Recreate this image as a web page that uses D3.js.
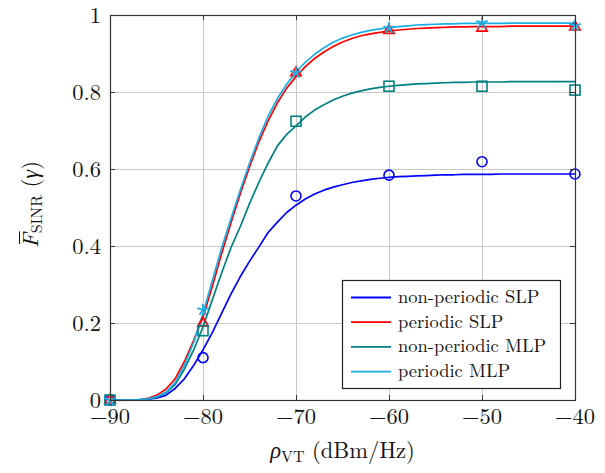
<!DOCTYPE html>
<html>
<head>
<meta charset="utf-8">
<script src="https://cdn.jsdelivr.net/npm/d3@7"></script>
<style>
  html, body { margin: 0; padding: 0; background: #fff; }
  svg { display: block; }
</style>
</head>
<body>
<svg id="chart" width="605" height="473"></svg>
<script>
// Transmit power density grid (dBm/Hz) for the analytical curves
const rho = d3.range(-90, -39, 1);

// Analytical SINR coverage curves, one value per dB
const nonPeriodicSLP = [0, 0, 0, 0, 0.002, 0.005, 0.012, 0.03, 0.055, 0.09,
  0.13, 0.175, 0.225, 0.275, 0.32, 0.36, 0.397, 0.435, 0.462, 0.487,
  0.506, 0.522, 0.535, 0.545, 0.553, 0.559, 0.565, 0.569, 0.573, 0.576,
  0.578, 0.58, 0.581, 0.582, 0.583, 0.584, 0.585, 0.585, 0.586, 0.586,
  0.586, 0.586, 0.587, 0.587, 0.587, 0.587, 0.587, 0.587, 0.587, 0.587, 0.587];
const periodicSLP = [0, 0, 0, 0, 0.004, 0.012, 0.028, 0.055, 0.1, 0.155,
  0.215, 0.295, 0.38, 0.46, 0.535, 0.605, 0.67, 0.725, 0.772, 0.81,
  0.84, 0.866, 0.887, 0.904, 0.918, 0.93, 0.939, 0.946, 0.951, 0.955,
  0.958, 0.961, 0.963, 0.965, 0.966, 0.967, 0.968, 0.969, 0.969, 0.97,
  0.97, 0.97, 0.97, 0.971, 0.971, 0.971, 0.971, 0.971, 0.971, 0.971, 0.971];
const nonPeriodicMLP = [0, 0, 0, 0, 0.002, 0.007, 0.018, 0.04, 0.08, 0.13,
  0.19, 0.26, 0.33, 0.395, 0.45, 0.51, 0.565, 0.615, 0.66, 0.69,
  0.712, 0.735, 0.753, 0.767, 0.779, 0.789, 0.797, 0.803, 0.808, 0.812,
  0.815, 0.817, 0.819, 0.821, 0.822, 0.823, 0.824, 0.825, 0.825, 0.826,
  0.826, 0.826, 0.826, 0.827, 0.827, 0.827, 0.827, 0.827, 0.827, 0.827, 0.827];
const periodicMLP = [0, 0, 0, 0.001, 0.003, 0.008, 0.02, 0.045, 0.09, 0.15,
  0.225, 0.31, 0.395, 0.47, 0.545, 0.615, 0.68, 0.737, 0.783, 0.82,
  0.852, 0.877, 0.898, 0.915, 0.929, 0.94, 0.948, 0.955, 0.96, 0.964,
  0.967, 0.97, 0.972, 0.974, 0.975, 0.976, 0.977, 0.977, 0.978, 0.978,
  0.978, 0.978, 0.978, 0.979, 0.979, 0.979, 0.979, 0.979, 0.979, 0.979, 0.979];

// Simulation points
const simRho = [-90, -80, -70, -60, -50, -40];
const simNonPeriodicSLP = [0, 0.11, 0.53, 0.584, 0.619, 0.587];
const simPeriodicSLP = [0, 0.2, 0.85, 0.96, 0.966, 0.969];
const simNonPeriodicMLP = [0, 0.18, 0.724, 0.815, 0.815, 0.805];
const simPeriodicMLP = [0, 0.234, 0.85, 0.966, 0.98, 0.972];

// Axis ticks
const xTicks = [-90, -80, -70, -60, -50, -40];
const yTicks = [0, 0.2, 0.4, 0.6, 0.8, 1];
const yTickLabels = ["0", "0.2", "0.4", "0.6", "0.8", "1"];

const seriesNames = ["non-periodic SLP", "periodic SLP", "non-periodic MLP", "periodic MLP"];
const seriesColors = ["#0000ff", "#ff0000", "#008080", "#18aee6"];
const seriesMarks = ["circle", "triangle", "square", "star"];

const curves = [nonPeriodicSLP, periodicSLP, nonPeriodicMLP, periodicMLP];
const sims = [simNonPeriodicSLP, simPeriodicSLP, simNonPeriodicMLP, simPeriodicMLP];

const plot = { left: 110, right: 575, top: 15, bottom: 400 };
const svg = d3.select("#chart");
const FONT = "Latin Modern Roman";
const INK = "#111";

const x = d3.scaleLinear().domain([-90, -40]).range([plot.left, plot.right]);
const y = d3.scaleLinear().domain([0, 1]).range([plot.bottom, plot.top]);

// Grid
const grid = svg.append("g").attr("stroke", "#c8c8c8").attr("stroke-width", 1);
grid.selectAll("line.vx").data(xTicks).join("line")
  .attr("x1", d => Math.round(x(d)) + 0.5).attr("x2", d => Math.round(x(d)) + 0.5)
  .attr("y1", plot.top).attr("y2", plot.bottom);
grid.selectAll("line.hy").data(yTicks).join("line")
  .attr("x1", plot.left).attr("x2", plot.right)
  .attr("y1", d => Math.round(y(d)) + 0.5).attr("y2", d => Math.round(y(d)) + 0.5);

// Analytical curves
const line = d3.line().x((d, i) => x(rho[i])).y(d => y(d));
curves.forEach((c, k) => {
  svg.append("path").datum(c)
    .attr("fill", "none")
    .attr("stroke", seriesColors[k])
    .attr("stroke-width", 1.7)
    .attr("stroke-linejoin", "round")
    .attr("d", line);
});

// Markers
function drawMark(g, type, color) {
  if (type === "circle") {
    g.append("circle").attr("r", 5).attr("fill", "none").attr("stroke", color).attr("stroke-width", 1.6);
  } else if (type === "square") {
    g.append("rect").attr("x", -5).attr("y", -5).attr("width", 10).attr("height", 10)
      .attr("fill", "none").attr("stroke", color).attr("stroke-width", 1.6);
  } else if (type === "triangle") {
    const s = 6;
    g.append("path").attr("d", `M0,${-s} L${s * 0.87},${s * 0.5} L${-s * 0.87},${s * 0.5} Z`)
      .attr("fill", "none").attr("stroke", color).attr("stroke-width", 1.6);
  } else {
    const arms = d3.range(5).map(i => {
      const a = -Math.PI / 2 + i * 2 * Math.PI / 5;
      return `M0,0 L${6 * Math.cos(a)},${6 * Math.sin(a)}`;
    }).join(" ");
    g.append("path").attr("d", arms).attr("fill", "none").attr("stroke", color).attr("stroke-width", 1.8);
  }
}
sims.forEach((vals, k) => {
  vals.forEach((v, i) => {
    const g = svg.append("g").attr("transform", `translate(${x(simRho[i])},${y(v)})`);
    drawMark(g, seriesMarks[k], seriesColors[k]);
  });
});

// Frame and inward ticks
const axisColor = "#333";
svg.append("rect")
  .attr("x", plot.left + 0.5).attr("y", plot.top + 0.5)
  .attr("width", plot.right - plot.left).attr("height", plot.bottom - plot.top)
  .attr("fill", "none").attr("stroke", axisColor).attr("stroke-width", 1.2);

const tickLen = 5;
const ticks = svg.append("g").attr("stroke", axisColor).attr("stroke-width", 1);
xTicks.forEach(t => {
  const px = Math.round(x(t)) + 0.5;
  ticks.append("line").attr("x1", px).attr("x2", px).attr("y1", plot.bottom).attr("y2", plot.bottom - tickLen);
  ticks.append("line").attr("x1", px).attr("x2", px).attr("y1", plot.top).attr("y2", plot.top + tickLen);
});
yTicks.forEach(t => {
  const py = Math.round(y(t)) + 0.5;
  ticks.append("line").attr("x1", plot.left).attr("x2", plot.left + tickLen).attr("y1", py).attr("y2", py);
  ticks.append("line").attr("x1", plot.right).attr("x2", plot.right - tickLen).attr("y1", py).attr("y2", py);
});

// Tick labels
svg.append("g").selectAll("text").data(xTicks).join("text")
  .attr("x", d => x(d)).attr("y", 424)
  .attr("text-anchor", "middle").attr("font-size", 22.5).attr("font-family", FONT).attr("fill", INK)
  .text(d => String(d).replace("-", "\u2212"));
svg.append("g").selectAll("text").data(yTicks).join("text")
  .attr("x", 101).attr("y", d => y(d) + 7.5)
  .attr("text-anchor", "end").attr("font-size", 22.5).attr("font-family", FONT).attr("fill", INK)
  .text((d, i) => yTickLabels[i]);

// Axis titles
const xt = svg.append("text").attr("x", (plot.left + plot.right) / 2).attr("y", 458)
  .attr("text-anchor", "middle").attr("font-size", 22.5).attr("font-family", FONT).attr("fill", INK);
xt.append("tspan").attr("font-style", "italic").text("\u03c1");
xt.append("tspan").attr("font-size", 16).attr("dy", 4).text("VT");
xt.append("tspan").attr("dy", -4).text(" (dBm/Hz)");

// Y title: F with an overbar, subscript SINR, then (γ)
const ytg = svg.append("g")
  .attr("transform", `translate(38,${(plot.top + plot.bottom) / 2 - 3}) rotate(-90)`);
const yt = ytg.append("text")
  .attr("font-size", 22.5).attr("font-family", FONT).attr("fill", INK);
const fSpan = yt.append("tspan").attr("font-style", "italic").text("F");
yt.append("tspan").attr("font-size", 16).attr("dy", 4).text("SINR");
yt.append("tspan").attr("dy", -4).text(" (");
yt.append("tspan").attr("font-style", "italic").text("\u03b3");
yt.append("tspan").text(")");
const total = yt.node().getComputedTextLength();
const x0 = -total / 2;
yt.attr("x", x0);
const fw = fSpan.node().getComputedTextLength();
ytg.append("line")
  .attr("x1", x0 + 4).attr("x2", x0 + fw + 2)
  .attr("y1", -18.5).attr("y2", -18.5)
  .attr("stroke", INK).attr("stroke-width", 1);

// Legend
const leg = svg.append("g");
leg.append("rect").attr("x", 342.5).attr("y", 280.5).attr("width", 218).attr("height", 108)
  .attr("fill", "#fff").attr("stroke", "#222").attr("stroke-width", 1.2);
seriesNames.forEach((name, i) => {
  const ry = 297.5 + i * 24.7;
  leg.append("line").attr("x1", 351).attr("x2", 391).attr("y1", ry).attr("y2", ry)
    .attr("stroke", seriesColors[i]).attr("stroke-width", 1.8);
  leg.append("text").attr("x", 398).attr("y", ry + 5.5).attr("font-size", 18.5)
    .attr("font-family", FONT).attr("fill", INK).text(name);
});
</script>
</body>
</html>
